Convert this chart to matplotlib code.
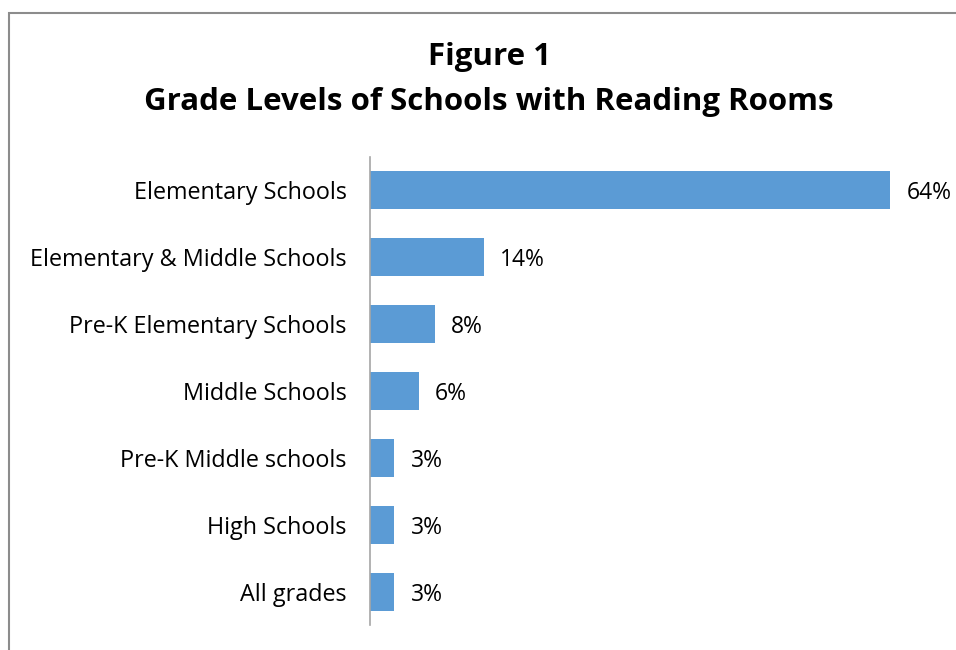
import matplotlib.pyplot as plt
from matplotlib.patches import Rectangle

categories = ["Elementary Schools", "Elementary & Middle Schools", "Pre-K Elementary Schools",
              "Middle Schools", "Pre-K Middle schools", "High Schools", "All grades"]
values = [64, 14, 8, 6, 3, 3, 3]
labels = ["64%", "14%", "8%", "6%", "3%", "3%", "3%"]

plt.rcParams['font.family'] = ['Open Sans', 'DejaVu Sans']

W, H = 956, 650
fig = plt.figure(figsize=(W / 100, H / 100), dpi=100)

# chart frame (cut off on right and bottom)
fig.patches.append(Rectangle((8.5 / W, -1), 2, 2 - 12.5 / H, transform=fig.transFigure,
                             fill=False, edgecolor='#8c8c8c', linewidth=1.5))

ax = fig.add_axes([370 / W, 1 - 625 / H, (890 - 370) / W, (625 - 157) / H])
y = list(range(len(categories)))
ax.barh(y, values, height=0.57, color='#5b9bd5')
ax.set_ylim(len(categories) - 0.5, -0.5)
ax.set_xlim(0, 64)
ax.set_yticks(y)
ax.set_yticklabels(categories, fontsize=16.8)
ax.tick_params(axis='y', length=0, pad=17)
ax.set_xticks([])
for s in ['top', 'right', 'bottom']:
    ax.spines[s].set_visible(False)
ax.spines['left'].set_color('#a6a6a6')
ax.spines['left'].set_linewidth(1.2)

for yi, v, lab in zip(y, values, labels):
    ax.text(v + 2, yi, lab, va='center_baseline', ha='left', fontsize=16.5, clip_on=False)

fig.text(489 / W, 1 - 57 / H, "Figure 1", ha='center', va='center', fontsize=22.5, fontweight='bold')
fig.text(489 / W, 1 - 102 / H, "Grade Levels of Schools with Reading Rooms", ha='center',
         va='center', fontsize=22.5, fontweight='bold')

fig.savefig('out.png', dpi=100)
